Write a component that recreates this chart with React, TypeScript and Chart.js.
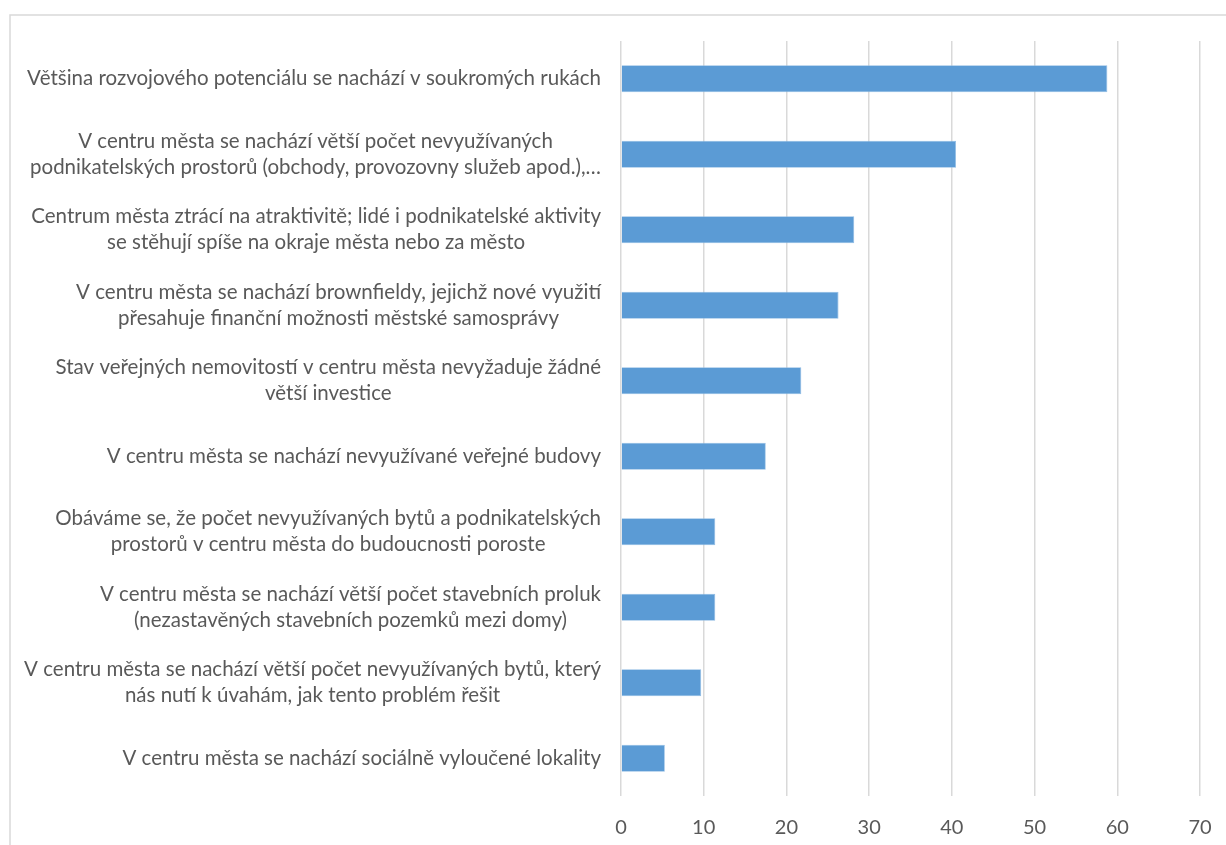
import React, { useEffect, useRef } from "react";
import { Chart, registerables } from "chart.js";

Chart.register(...registerables);

const categories: string[][] = [
  ["Většina rozvojového potenciálu se nachází v soukromých rukách"],
  ["V centru města se nachází větší počet nevyužívaných", "podnikatelských prostorů (obchody, provozovny služeb apod.),…"],
  ["Centrum města ztrácí na atraktivitě; lidé i podnikatelské aktivity", "se stěhují spíše na okraje města nebo za město"],
  ["V centru města se nachází brownfieldy, jejichž nové využití", "přesahuje finanční možnosti městské samosprávy"],
  ["Stav veřejných nemovitostí v centru města nevyžaduje žádné", "větší investice"],
  ["V centru města se nachází nevyužívané veřejné budovy"],
  ["Obáváme se, že počet nevyužívaných bytů a podnikatelských", "prostorů v centru města do budoucnosti poroste"],
  ["V centru města se nachází větší počet stavebních proluk", "(nezastavěných stavebních pozemků mezi domy)"],
  ["V centru města se nachází větší počet nevyužívaných bytů, který", "nás nutí k úvahám, jak tento problém řešit"],
  ["V centru města se nachází sociálně vyloučené lokality"],
];

const values: number[] = [58.8, 40.5, 28.2, 26.3, 21.8, 17.5, 11.4, 11.4, 9.7, 5.3];

const xMin = 0;
const xMax = 70;
const xStep = 10;

const FONT = "Lato";
const TEXT_COLOR = "#595959";
const GRID_COLOR = "#d9d9d9";

const framePlugin = {
  id: "frame",
  beforeDraw(chart: any) {
    const ctx = chart.ctx;
    ctx.save();
    ctx.strokeStyle = GRID_COLOR;
    ctx.lineWidth = 1.5;
    ctx.strokeRect(10, 15, 1400, 1000);
    ctx.restore();
  },
};

const labelPlugin = {
  id: "blockLabels",
  afterDraw(chart: any) {
    const ctx = chart.ctx;
    const yScale = chart.scales.y;
    const right = chart.chartArea.left - 20;
    const lh = 26;
    ctx.save();
    ctx.font = `20.5px ${FONT}`;
    ctx.fillStyle = TEXT_COLOR;
    ctx.textAlign = "center";
    ctx.textBaseline = "middle";
    categories.forEach((lines, i) => {
      const cy = yScale.getPixelForValue(i);
      const w = Math.max(...lines.map((l) => ctx.measureText(l).width));
      const cx = right - w / 2;
      lines.forEach((l, j) => {
        ctx.fillText(l, cx, cy + (j - (lines.length - 1) / 2) * lh);
      });
    });
    ctx.restore();
  },
};

export default function App() {
  const ref = useRef<HTMLCanvasElement | null>(null);
  useEffect(() => {
    if (!ref.current) return;
    const chart = new Chart(ref.current, {
      type: "bar",
      data: {
        labels: categories.map((c) => c.join(" ")),
        datasets: [
          {
            data: values,
            backgroundColor: "#5B9BD5",
            borderColor: "#8fbbe3",
            borderWidth: 0.8,
            categoryPercentage: 0.4,
            barPercentage: 0.9,
          },
        ],
      },
      options: {
        indexAxis: "y",
        animation: false,
        responsive: false,
        layout: { padding: { top: 41, right: 26, left: 0, bottom: 0 } },
        plugins: { legend: { display: false }, tooltip: { enabled: false } },
        scales: {
          x: {
            min: xMin,
            max: xMax,
            ticks: {
              stepSize: xStep,
              color: TEXT_COLOR,
              font: { family: FONT, size: 20 },
              padding: 20,
            },
            grid: { color: GRID_COLOR, lineWidth: 1.5, drawTicks: false },
            border: { display: false },
            afterFit(scale: any) {
              scale.height = 49;
              scale.paddingLeft = 0;
              scale.paddingRight = 0;
            },
          },
          y: {
            ticks: { display: false },
            grid: { display: false },
            border: { display: false },
            afterFit(scale: any) {
              scale.width = 621;
              scale.paddingTop = 0;
              scale.paddingBottom = 0;
            },
          },
        },
      },
      plugins: [framePlugin, labelPlugin],
    });
    return () => chart.destroy();
  }, []);
  return (
    <div style={{ position: "absolute", left: 0, top: 0, width: 1226, height: 845, background: "#fff" }}>
      <canvas ref={ref} width={1226} height={845} />
    </div>
  );
}
